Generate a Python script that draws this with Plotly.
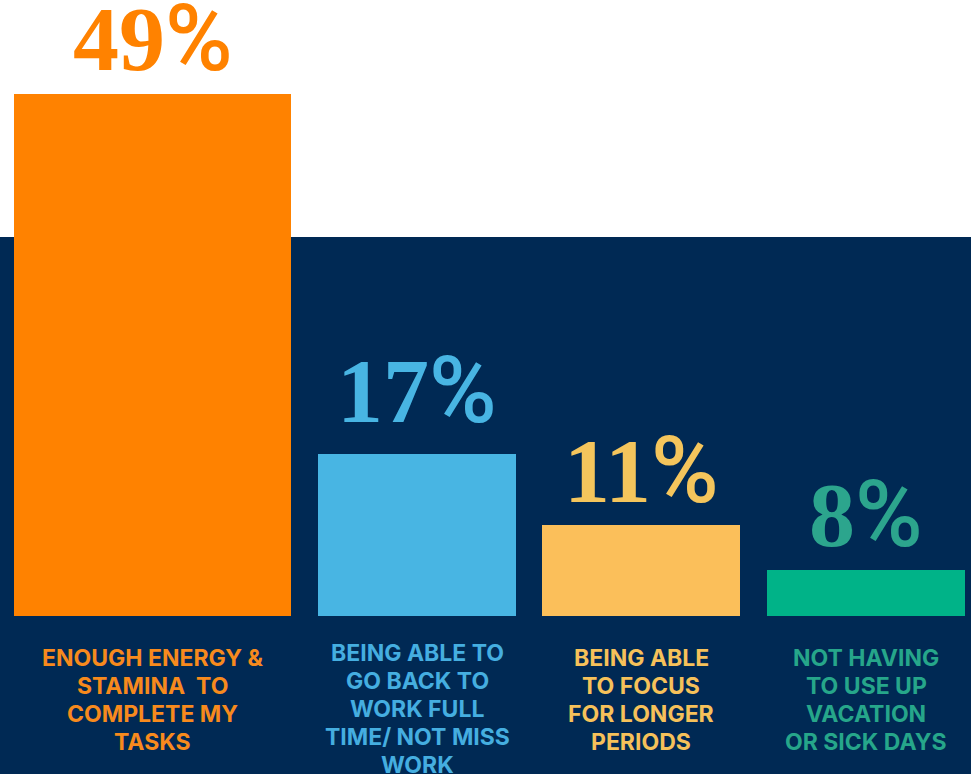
import plotly.graph_objects as go

# ---- data ----
categories = [
    "ENOUGH ENERGY &<br>STAMINA  TO<br>COMPLETE MY<br>TASKS",
    "BEING ABLE TO<br>GO BACK TO<br>WORK FULL<br>TIME/ NOT MISS<br>WORK",
    "BEING ABLE<br>TO FOCUS<br>FOR LONGER<br>PERIODS",
    "NOT HAVING<br>TO USE UP<br>VACATION<br>OR SICK DAYS",
]
percent_labels = [49, 17, 11, 8]
# bar heights as drawn in the picture (not proportional to the labels)
bar_heights = [49.0, 15.2, 8.5, 4.3]

# ---- layout / style ----
W, H = 971, 774
base_px = 616
px_per_unit = 522 / 49.0
y_min = -(H - base_px) / px_per_unit
y_max = base_px / px_per_unit

x_centers = [152.5, 417, 641, 866]
bar_widths = [277, 198, 198, 198]
bar_colors = ["#FF8200", "#48B5E3", "#FBBF5A", "#00B388"]
pct_colors = ["#FF8200", "#48B5E3", "#F4C55C", "#2CA58D"]
lbl_colors = ["#F78A1D", "#45AEE0", "#F6C15A", "#26A68A"]
navy = "#002954"

fig = go.Figure()
fig.add_trace(go.Bar(
    x=x_centers, y=bar_heights, width=bar_widths,
    marker=dict(color=bar_colors, line=dict(width=0)),
    hoverinfo="skip", showlegend=False,
))

pct_shift = [0, 8, -1, 0]
for i, v in enumerate(percent_labels):
    fig.add_annotation(
        x=x_centers[i], y=bar_heights[i], xref="x", yref="y",
        text=f"{v}<span style='font-family:Roboto;font-weight:500'>%</span>",
        showarrow=False, yanchor="bottom", xanchor="center",
        yshift=pct_shift[i],
        font=dict(family="Liberation Serif", size=92, color=pct_colors[i], weight="bold"),
    )

first_line_px = [658, 653, 658, 658]
line_step_px = 28
for i, c in enumerate(categories):
    for j, line in enumerate(c.split("<br>")):
        ypx = first_line_px[i] + j * line_step_px
        fig.add_annotation(
            x=x_centers[i], y=(base_px - ypx) / px_per_unit, xref="x", yref="y",
            text=line, showarrow=False, yanchor="middle", xanchor="center",
            font=dict(family="Inter", size=23, color=lbl_colors[i], weight="bold"),
        )

fig.add_shape(
    type="rect", xref="paper", yref="paper", x0=0, x1=1, y0=0, y1=(H - 237) / H,
    fillcolor=navy, line=dict(width=0), layer="below",
)

fig.update_layout(
    width=W, height=H, margin=dict(l=0, r=0, t=0, b=0),
    paper_bgcolor="white", plot_bgcolor="rgba(0,0,0,0)",
    xaxis=dict(range=[0, W], visible=False, fixedrange=True),
    yaxis=dict(range=[y_min, y_max], visible=False, fixedrange=True),
    bargap=0,
)

fig.write_html("out.html", config={"displayModeBar": False})
